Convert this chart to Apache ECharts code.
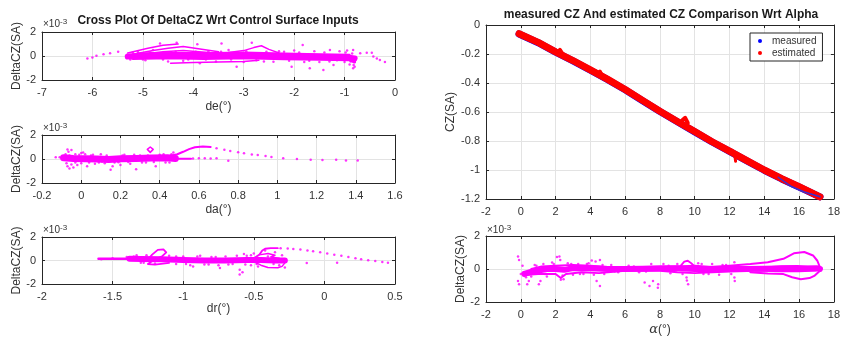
<!DOCTYPE html>
<html><head><meta charset="utf-8">
<script src="https://cdn.jsdelivr.net/npm/echarts@6/dist/echarts.min.js"></script>
<style>html,body{margin:0;padding:0;background:#fff}#c{width:843px;height:337px}</style>
</head><body><div id="c"></div>
<script>
// ---------------- DATA (DeltaCZ values in units of 1e-3) ----------------
// Panel 1: de vs DeltaCZ
const de_core = [[-5.3,-0.05],[-5.0,0.02],[-4.7,0.08],[-4.4,0.05],[-4.0,0.0],[-3.6,0.02],[-3.2,0.08],[-2.8,0.05],[-2.4,0.0],[-2.0,-0.03],[-1.6,-0.06],[-1.2,-0.1],[-0.95,-0.12],[-0.8,-0.2]];
const de_upper = [[-5.1,0.2],[-4.4,0.25],[-3.6,0.25],[-3.0,0.3],[-2.2,0.2],[-1.5,0.15],[-0.9,0.1]];
const de_lower = [[-5.2,-0.2],[-4.5,-0.15],[-3.8,-0.2],[-3.0,-0.15],[-2.2,-0.22],[-1.5,-0.28],[-0.9,-0.32],[-0.8,-0.5]];
const de_wedge1 = [[-5.3,0.25],[-4.9,0.65],[-4.6,0.9],[-4.3,1.0]];
const de_wedge2 = [[-5.2,0.15],[-4.8,0.45],[-4.5,0.65],[-4.2,0.8],[-3.9,0.6],[-3.5,0.35]];
const de_wedge3 = [[-5.1,0.1],[-4.6,0.35],[-4.2,0.45],[-3.7,0.3]];
const de_branch = [[-4.45,-0.6],[-4.0,-0.55],[-3.5,-0.5],[-3.0,-0.45],[-2.7,-0.35]];
const de_bump = [[-3.3,0.3],[-3.0,0.45],[-2.8,0.7],[-2.65,0.85],[-2.5,0.55],[-2.3,0.25]];
const de_pts = [[-6.1,-0.2],[-6.0,-0.12],[-5.92,0.03],[-5.78,0.14],[-5.65,0.22],[-5.49,0.36],[-5.32,-0.11],[-5.25,-0.3],[-5.1,0.35],[-4.95,-0.35],[-4.8,0.5],[-4.66,1.05],[-4.5,-0.45],[-4.33,1.1],[-4.2,-0.4],[-3.92,0.97],[-3.87,-0.61],[-3.7,0.4],[-3.55,-0.45],[-3.44,1.05],[-3.3,0.5],[-3.14,-0.89],[-3.0,-0.5],[-2.84,1.1],[-2.6,-0.45],[-2.41,-0.47],[-2.3,0.4],[-2.05,-0.89],[-2.0,0.45],[-1.83,0.92],[-1.8,-0.5],[-1.69,-1.03],[-1.6,0.4],[-1.5,-0.5],[-1.42,-1.17],[-1.29,0.5],[-1.22,-0.75],[-1.1,0.4],[-1.0,-0.5],[-0.95,0.45],[-0.9,-0.7],[-0.83,0.5],[-0.83,-1.03],[-0.82,-0.75],[-0.8,-0.9],[-0.69,0.22],[-0.56,0.28],[-0.46,0.28],[-0.43,-0.05],[-0.36,-0.2],[-0.3,-0.33],[-0.2,-0.5]];
const de_edge = [[-5.2,0.3],[-5.0,-0.3],[-4.85,0.3],[-4.6,-0.3],[-4.35,0.35],[-4.1,-0.3],[-3.95,0.35],[-3.75,-0.3],[-3.45,0.35],[-3.25,-0.3],[-2.95,0.4],[-2.75,-0.35],[-2.55,0.35],[-2.2,0.35],[-2.1,-0.4],[-1.9,0.3],[-1.7,-0.4],[-1.4,0.3],[-1.3,-0.45],[-1.15,-0.35],[-0.98,0.3],[-0.88,-0.45],[-0.85,0.2]];

// Panel 2: da vs DeltaCZ
const da_core = [[-0.09,0.1],[-0.04,0.05],[0.02,0.02],[0.08,0.0],[0.14,-0.04],[0.2,0.02],[0.28,0.05],[0.36,0.08],[0.44,0.1],[0.48,0.05]];
const da_thin = [[0.44,0.0],[0.5,0.02],[0.56,0.02]];
const da_hump = [[0.40,0.12],[0.45,0.25],[0.49,0.4],[0.52,0.6],[0.55,0.82],[0.58,0.98],[0.62,1.05],[0.66,1.0]];
const da_loop = [[0.352,0.55],[0.362,0.65],[0.367,0.8],[0.362,0.95],[0.352,1.0],[0.342,0.95],[0.337,0.8],[0.342,0.65],[0.352,0.55]];
const da_tail = [[0.69,0.89],[0.73,0.78],[0.76,0.67],[0.8,0.56],[0.83,0.47],[0.87,0.38],[0.9,0.33],[0.94,0.24],[0.97,0.17],[1.03,0.06],[1.1,0.0],[1.17,-0.06],[1.23,-0.08],[1.3,-0.06],[1.35,-0.12],[1.41,-0.12]];
const da_pts = [[-0.13,0.15],[-0.11,0.15],[-0.1,0.1],[-0.07,0.8],[-0.065,0.6],[-0.05,0.75],[-0.07,-0.6],[-0.06,-0.8],[-0.04,-0.7],[-0.02,-0.5],[0.0,0.5],[0.01,0.55],[0.03,-0.6],[-0.03,0.4],[0.05,0.3],[0.07,-0.4],[0.1,0.4],[0.12,-0.35],[0.15,-0.9],[0.16,-0.6],[0.2,-0.5],[0.22,0.35],[0.25,-0.4],[0.28,-0.85],[0.3,0.3],[0.33,-0.3],[0.38,-0.6],[0.42,0.4],[0.45,-0.3],[0.47,0.55],[0.57,0.05],[0.6,0.06],[0.63,0.07],[0.66,0.05],[0.69,0.07],[0.75,-0.15],[0.106,-0.2],[0.19,-0.28]];
const da_edge = [[-0.08,0.4],[-0.075,-0.35],[-0.06,0.3],[-0.05,-0.45],[-0.03,-0.3],[-0.01,0.35],[0.0,-0.35],[0.02,0.4],[0.04,-0.3],[0.06,0.35],[0.09,-0.3],[0.13,0.3],[0.17,-0.3],[0.21,0.3],[0.24,-0.25],[0.27,0.35],[0.31,-0.3],[0.34,0.3],[0.37,-0.25],[0.4,0.35],[0.43,-0.3],[0.46,0.4]];

// Panel 3: dr vs DeltaCZ
const dr_thin = [[-1.6,0.15],[-1.5,0.15],[-1.38,0.14]];
const dr_core = [[-1.38,0.14],[-1.3,0.12],[-1.15,0.1],[-1.0,0.05],[-0.85,0.0],[-0.7,0.0],[-0.55,0.05],[-0.45,0.05],[-0.35,0.0],[-0.28,0.0]];
const dr_loop = [[-1.25,0.1],[-1.22,0.5],[-1.18,0.9],[-1.14,0.95],[-1.12,0.7],[-1.15,0.35],[-1.2,0.1],[-1.25,-0.3],[-1.2,-0.35],[-1.1,-0.2]];
const dr_upper = [[-0.5,0.2],[-0.46,0.5],[-0.44,0.85],[-0.42,1.0],[-0.38,1.05],[-0.33,1.05]];
const dr_swirl = [[-0.45,0.5],[-0.4,0.6],[-0.35,0.45],[-0.38,0.3],[-0.32,0.2]];
const dr_lower = [[-0.5,-0.1],[-0.45,-0.4],[-0.4,-0.6],[-0.33,-0.62],[-0.3,-0.5],[-0.28,-0.2]];
const dr_tail = [[-0.31,1.04],[-0.26,1.02],[-0.22,0.98],[-0.17,0.93],[-0.12,0.86],[-0.08,0.78],[-0.03,0.7],[0.02,0.6],[0.07,0.5],[0.12,0.4],[0.17,0.3],[0.22,0.2],[0.26,0.1],[0.31,0.02],[0.36,-0.05],[0.41,-0.12],[0.45,-0.2]];
const dr_pts = [[-1.58,0.1],[-1.5,0.2],[-1.4,0.3],[-1.35,0.35],[-1.3,-0.2],[-1.26,0.45],[-1.2,-0.25],[-1.1,0.4],[-1.05,-0.3],[-1.0,0.35],[-0.95,-0.4],[-0.93,-0.5],[-0.88,0.4],[-0.85,-0.35],[-0.8,0.3],[-0.75,-0.4],[-0.74,-0.64],[-0.7,0.35],[-0.65,-0.3],[-0.6,-0.78],[-0.6,-1.2],[-0.58,-1.0],[-0.57,0.55],[-0.55,0.4],[-0.52,-0.4],[-0.5,0.6],[-0.47,-0.5],[-0.42,0.85],[-0.35,0.7],[-0.32,-0.4],[-0.3,0.45],[-0.28,-0.6],[-0.125,-0.21],[0.09,-0.2]];
const dr_edge = [[-1.33,0.45],[-1.28,-0.2],[-1.05,0.35],[-0.98,-0.3],[-0.9,0.35],[-0.82,-0.35],[-0.77,0.3],[-0.68,-0.35],[-0.62,0.4],[-0.56,-0.35],[-0.52,0.45],[-0.48,-0.3],[-0.4,0.35],[-0.36,-0.3]];

// Panel 4: CZ vs alpha
const cz_est = [[-0.1,-0.06],[1,-0.12],[2,-0.185],[3,-0.245],[4,-0.31],[5,-0.375],[6,-0.445],[7,-0.52],[8,-0.595],[9,-0.665],[10,-0.735],[11,-0.805],[12,-0.87],[13,-0.935],[14,-1.0],[15,-1.06],[16,-1.115],[17.2,-1.185]];
const cz_meas = [[-0.1,-0.062],[1,-0.122],[2,-0.187],[3,-0.247],[4,-0.312],[5,-0.377],[6,-0.447],[7,-0.522],[8,-0.597],[9,-0.667],[10,-0.737],[11,-0.807],[12,-0.872],[13,-0.937],[14,-1.002],[15,-1.062],[16,-1.117],[17.2,-1.185]];
const cz_lens = [[14.8,-1.05],[15.5,-1.11],[16.3,-1.152],[17.2,-1.185]];
const cz_spikes = [[2.1,-0.19],[2.25,-0.172],[2.4,-0.2],[4.4,-0.34],[4.55,-0.322],[4.7,-0.36],[9.3,-0.655],[9.45,-0.64],[9.6,-0.675],[12.15,-0.865],[12.3,-0.895],[12.35,-0.94]];

// Panel 5: alpha vs DeltaCZ
const ab_core = [[0.2,-0.3],[0.5,-0.2],[1.0,-0.1],[1.5,0.0],[2.0,0.0],[2.5,-0.05],[3.0,0.05],[4.0,0.05],[5.0,0.0],[6.0,0.0],[7.0,0.02],[8.0,0.05],[9.0,0.05],[10.0,0.0],[11.0,-0.02],[12.0,0.0],[13.0,0.0],[14.0,0.02],[15.0,0.03],[16.0,0.03],[17.0,0.05],[17.2,0.0]];
const ab_up = [[0.6,0.0],[1.2,0.15],[2,0.2],[3,0.25],[4,0.2],[5,0.12],[6,0.08],[8,0.12],[9,0.15],[10,0.2],[11,0.12],[12,0.1]];
const ab_low = [[0.4,-0.35],[1,-0.3],[2,-0.3],[2.3,-0.55],[2.6,-0.3],[3.5,-0.2],[4.5,-0.25],[6,-0.1],[8,-0.1],[9,-0.2],[10,-0.25],[11,-0.2],[12,-0.15],[13,-0.12]];
const ab_loopUp = [[10.6,0.1],[12,0.2],[13.2,0.3],[14.2,0.41],[15.1,0.62],[15.7,0.95],[16.3,1.03],[16.8,0.82],[17.05,0.5],[17.2,0.1]];
const ab_loopLow = [[13.2,-0.2],[14.2,-0.28],[15.1,-0.31],[15.6,-0.5],[16.1,-0.62],[16.6,-0.55],[16.9,-0.4],[17.2,-0.1]];
const ab_inner = [[12.7,0.0],[14,0.1],[15,0.18],[15.9,0.2],[16.8,0.1],[17.2,0.05]];
const ab_inner2 = [[13.5,-0.1],[15,-0.15],[16,-0.15],[17,-0.1]];
const ab_bump = [[9.2,0.2],[9.4,0.45],[9.6,0.5],[9.8,0.35],[10,0.15]];
const ab_pts = [[-0.16,0.76],[-0.1,0.55],[-0.16,-0.72],[-0.1,-0.92],[0.0,-0.3],[0.1,0.2],[0.37,-0.92],[0.46,-0.72],[0.3,-0.5],[0.6,-0.45],[0.8,0.25],[1.04,-0.92],[1.13,-0.72],[1.3,0.3],[1.5,-0.45],[1.8,0.4],[2.08,0.72],[2.22,0.76],[2.27,0.55],[2.46,-0.62],[2.3,-0.65],[2.7,0.35],[3.0,-0.35],[3.3,0.3],[3.6,-0.3],[3.9,0.35],[4.08,0.51],[4.55,0.55],[4.3,0.45],[4.36,-0.72],[4.55,-1.03],[4.8,-0.3],[5.2,0.25],[5.6,-0.2],[6.2,0.2],[6.8,-0.2],[7.12,-0.82],[7.4,-1.03],[7.6,-0.72],[7.88,-1.13],[7.9,-0.92],[7.5,0.3],[8.2,0.3],[8.6,-0.25],[9.0,0.3],[9.53,-0.51],[9.62,-0.92],[9.55,-0.7],[10.2,0.35],[10.5,-0.3],[11.0,0.3],[11.4,-0.35],[11.8,0.25],[12.28,0.41],[12.28,-0.51],[12.3,-0.72],[12.5,0.2]];
const ab_edge = [[0.9,0.2],[1.4,-0.3],[1.9,0.3],[2.4,-0.4],[2.9,0.3],[3.4,-0.3],[3.8,0.3],[4.2,-0.35],[4.7,0.25],[5.4,-0.15],[6.5,0.15],[7.2,-0.15],[8.5,0.2],[9.3,-0.3],[10.4,0.3],[10.8,-0.3],[11.6,0.25],[12.1,-0.3]];

// Axis ranges / ticks
const xRanges = [[-7,0,1],[-0.2,1.6,0.2],[-2,0.5,0.5],[-2,18,2],[-2,18,2]];
const yRanges = [[-2,2,2],[-2,2,2],[-2,2,2],[-1.2,0,0.2],[-2,2,2]];
const xNames = ['de(°)','da(°)','dr(°)','','{a|α}(°)'];
const yNames = ['DeltaCZ(SA)','DeltaCZ(SA)','DeltaCZ(SA)','CZ(SA)','DeltaCZ(SA)'];

// ---------------- CHART ----------------
const FF = '"Liberation Sans", Arial, sans-serif';
const TXT = '#333';
const AX = '#262626';
const M = '#ff00ff';
const grids = [
  {left:42, top:32, width:353, height:48},
  {left:42, top:135, width:353, height:48},
  {left:42, top:237, width:353, height:47},
  {left:486, top:25, width:351, height:174},
  {left:486, top:236, width:351, height:66}
];
const xGaps = [21, 21, 19, 0, 21];
const yGaps = [17, 17, 17, 26, 16];

const xAxis = [], yAxis = [];
for (let i = 0; i < 5; i++) {
  const [x0,x1,xi] = xRanges[i], [y0,y1,yi] = yRanges[i];
  const common = {gridIndex:i, axisLine:{show:true, onZero:false, lineStyle:{color:AX, width:1}},
    axisTick:{show:true, inside:true, length:3, lineStyle:{color:AX}}};
  xAxis.push(Object.assign({type:'value', min:x0, max:x1, interval:xi, position:'bottom',
    name:xNames[i], nameLocation:'middle', nameGap:xGaps[i],
    nameTextStyle:{fontSize:12, color:TXT, fontFamily:FF, rich:{a:{fontFamily:'"DejaVu Serif", serif', fontSize:13, fontStyle:'italic', color:TXT}}},
    axisLabel:{color:TXT, fontSize:11, fontFamily:FF, margin:7},
    splitLine:{show:true, lineStyle:{color:'#e3e3e3', width:1}}}, common));
  yAxis.push(Object.assign({type:'value', min:y0, max:y1, interval:yi, position:'left',
    name:yNames[i], nameLocation:'middle', nameGap:yGaps[i],
    nameTextStyle:{fontSize:12, color:TXT, fontFamily:FF},
    axisLabel:{color:TXT, fontSize:11, fontFamily:FF, margin:6},
    splitLine:{show:true, lineStyle:{color:'#e3e3e3', width:1}}}, common));
}
for (let i = 0; i < 5; i++) {
  const [x0,x1,xi] = xRanges[i], [y0,y1,yi] = yRanges[i];
  const common = {gridIndex:i, axisLine:{show:true, onZero:false, lineStyle:{color:AX, width:1}},
    axisTick:{show:true, inside:true, length:3, lineStyle:{color:AX}}, axisLabel:{show:false}, splitLine:{show:false}};
  xAxis.push(Object.assign({type:'value', min:x0, max:x1, interval:xi, position:'top'}, common));
  yAxis.push(Object.assign({type:'value', min:y0, max:y1, interval:yi, position:'right'}, common));
}

function ln(data, i, w, color, name) {
  return {type:'line', name:name, data:data, xAxisIndex:i, yAxisIndex:i, symbol:'none', silent:true,
    animation:false, clip:true, z:2, itemStyle:{color:color||M},
    lineStyle:{width:w, color:color||M, cap:'round', join:'round'}};
}
function dots(data, i, s, color) {
  return {type:'scatter', data:data, xAxisIndex:i, yAxisIndex:i, symbolSize:s||2.5, silent:true,
    animation:false, z:3, itemStyle:{color:color||M}};
}

const series = [
  ln(de_core,0,6), ln(de_upper,0,2), ln(de_lower,0,3), ln(de_wedge1,0,1.5), ln(de_wedge2,0,1.5), ln(de_wedge3,0,1.5),
  ln(de_branch,0,1.5), ln(de_bump,0,1.5), dots(de_pts,0), dots(de_edge,0),
  ln(da_core,1,7), ln(da_thin,1,2), ln(da_hump,1,2), ln(da_loop,1,1.5), dots(da_tail,1), dots(da_pts,1), dots(da_edge,1),
  ln(dr_thin,2,2.5), ln(dr_core,2,6), ln(dr_loop,2,1.8), ln(dr_upper,2,1.8), ln(dr_swirl,2,1.5), ln(dr_lower,2,1.5),
  dots(dr_tail,2), dots(dr_pts,2), dots(dr_edge,2),
  ln(cz_meas,3,7,'#0000ff','measured'), ln(cz_est,3,7,'#ff0000','estimated'),
  ln(cz_lens,3,1.5,'#3a2fd0'), ln(cz_spikes.slice(0,3),3,4,'#ff0000'), ln(cz_spikes.slice(3,6),3,4,'#ff0000'),
  ln(cz_spikes.slice(6,9),3,4,'#ff0000'), ln(cz_spikes.slice(9,12),3,3,'#ff0000'),
  ln(ab_core,4,6), ln(ab_up,4,2), ln(ab_low,4,2), ln(ab_loopUp,4,2), ln(ab_loopLow,4,2), ln(ab_inner,4,1.5),
  ln(ab_inner2,4,1.5), ln(ab_bump,4,1.8), dots(ab_pts,4), dots(ab_edge,4)
];

const expo = (x,y) => ({type:'text', x:x, y:y, silent:true, style:{text:'{a|×10}{b|-3}', textVerticalAlign:'middle',
  rich:{a:{fontSize:10, fontFamily:FF, fill:TXT, lineHeight:13}, b:{fontSize:8, fontFamily:FF, fill:TXT, verticalAlign:'top', lineHeight:8}}}});

const option = {
  backgroundColor:'#fff',
  animation:false,
  grid: grids,
  xAxis: xAxis,
  yAxis: yAxis,
  legend: {show:true, left:750, top:33, orient:'vertical', data:['measured','estimated'], icon:'circle',
    itemWidth:14, itemHeight:4, itemGap:2, padding:[3,6,3,8], borderColor:AX, borderWidth:1, backgroundColor:'#fff',
    textStyle:{fontSize:10, color:TXT, fontFamily:FF}, selectedMode:false},
  graphic: [
    {type:'text', x:218, y:21, silent:true, style:{text:'Cross Plot Of DeltaCZ Wrt Control Surface Inputs', textAlign:'center', textVerticalAlign:'middle', font:'bold 12px ' + FF, fill:'#1a1a1a'}},
    {type:'text', x:661, y:15, silent:true, style:{text:'measured CZ And estimated CZ Comparison Wrt Alpha', textAlign:'center', textVerticalAlign:'middle', font:'bold 12px ' + FF, fill:'#1a1a1a'}},
    expo(43,24), expo(43,128), expo(43,230), expo(487,230)
  ],
  series: series
};
const chart = echarts.init(document.getElementById('c'), null, {renderer:'canvas'});
chart.setOption(option);
</script></body></html>
